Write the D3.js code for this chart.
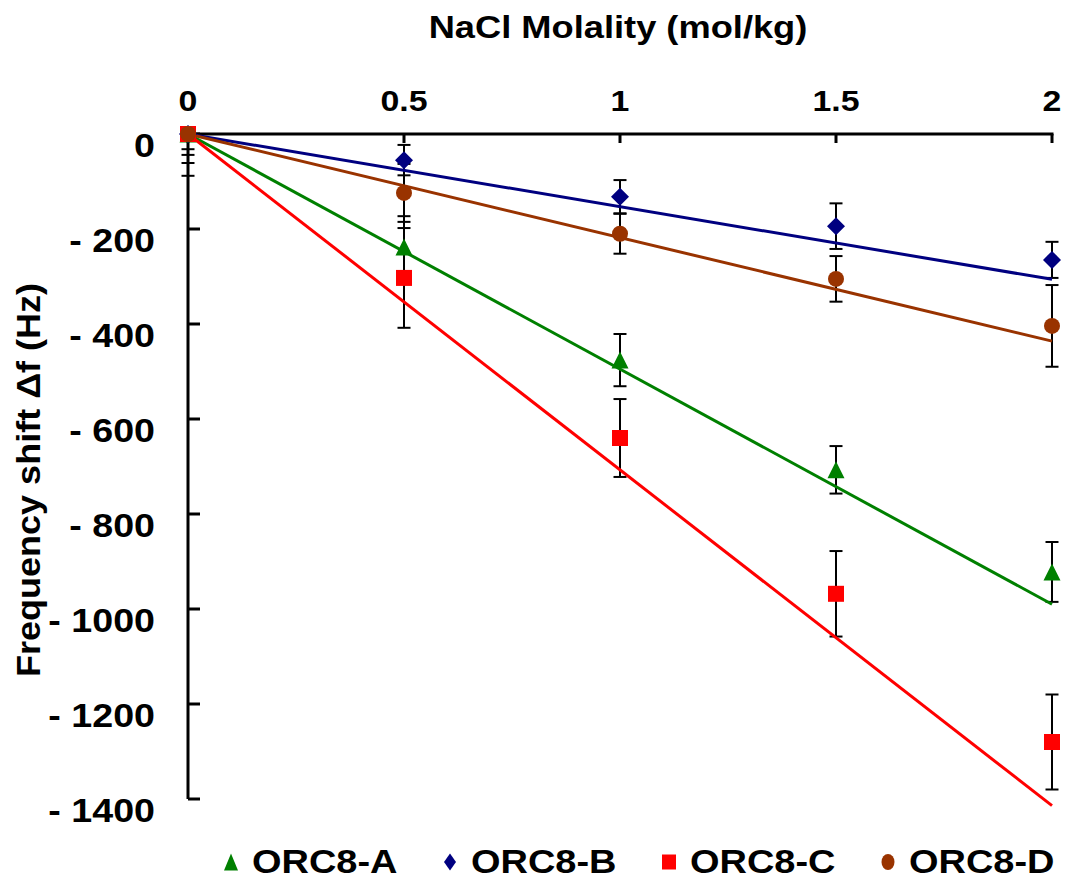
<!DOCTYPE html>
<html>
<head>
<meta charset="utf-8">
<script src="https://cdn.jsdelivr.net/npm/d3@7"></script>
<style>
  body { margin: 0; background: #fff; }
  text { font-family: "Liberation Sans", Arial, sans-serif; font-weight: bold; fill: #000; }
</style>
</head>
<body>
<svg id="chart" width="1066" height="882"></svg>
<script>
// NaCl molality (mol/kg)
const molality = [0, 0.5, 1, 1.5, 2];

// Frequency shift (Hz) and error-bar half widths per sensor
const shiftA = [0, -238, -476, -707, -922];
const errA   = [44, 65, 55, 50, 63];
const shiftB = [0, -55, -132, -194, -265];
const errB   = [32, 32, 35, 48, 38];
const shiftC = [0, -303, -640, -968, -1280];
const errC   = [61, 105, 82, 90, 100];
const shiftD = [0, -124, -210, -305, -404];
const errD   = [88, 61, 42, 48, 86];

// Linear trendline parameters (Hz per mol/kg, Hz)
const fitSlope     = [-495, -153, -707, -218];
const fitIntercept = [0, 0, 0, 0];

const seriesNames = ["ORC8-A", "ORC8-B", "ORC8-C", "ORC8-D"];
const xTicks = [0, 0.5, 1, 1.5, 2];
const yTicks = [0, -200, -400, -600, -800, -1000, -1200, -1400];

const colors  = ["#008000", "#000080", "#FF0000", "#993300"];
const shapes  = ["triangle", "diamond", "square", "circle"];
const shifts  = [shiftA, shiftB, shiftC, shiftD];
const errs    = [errA, errB, errC, errD];

const svg = d3.select("#chart");

const x = d3.scaleLinear().domain([0, 2]).range([188, 1052]);
const y = d3.scaleLinear().domain([-1400, 0]).range([799, 134]);

// Marker outlines centred on the origin
function markerPath(shape, w, h) {
  const p = d3.path();
  if (shape === "triangle") {
    p.moveTo(0, -h / 2); p.lineTo(w / 2, h / 2); p.lineTo(-w / 2, h / 2); p.closePath();
  } else if (shape === "diamond") {
    p.moveTo(0, -h / 2); p.lineTo(w / 2, 0); p.lineTo(0, h / 2); p.lineTo(-w / 2, 0); p.closePath();
  } else {
    p.rect(-w / 2, -h / 2, w, h);
  }
  return p.toString();
}

function drawMarker(g, shape, cx, cy, w, h, color) {
  if (shape === "circle") {
    g.append("ellipse").attr("cx", cx).attr("cy", cy).attr("rx", w / 2).attr("ry", h / 2).attr("fill", color);
  } else {
    g.append("path").attr("d", markerPath(shape, w, h))
      .attr("transform", `translate(${cx},${cy})`).attr("fill", color);
  }
}

// Horizontally stretched bold label
function label(parent, px, py, str, size, sx, anchor, rot) {
  const g = parent.append("g")
    .attr("transform", `translate(${px},${py}) rotate(${rot || 0}) scale(${sx},1)`);
  g.append("text").attr("text-anchor", anchor).style("font-size", size + "px").text(str);
  return g;
}

// Error bars, clipped to the plotting area
svg.append("clipPath").attr("id", "plotClip")
  .append("rect").attr("x", 160).attr("y", y(0)).attr("width", 920).attr("height", y(-1400) - y(0) + 20);

const errG = svg.append("g").attr("clip-path", "url(#plotClip)")
  .attr("stroke", "#000").attr("stroke-width", 2).attr("fill", "none");
shifts.forEach((vals, s) => {
  vals.forEach((v, i) => {
    const cx = x(molality[i]);
    const top = y(v + errs[s][i]), bot = y(v - errs[s][i]);
    errG.append("line").attr("x1", cx).attr("x2", cx).attr("y1", top).attr("y2", bot);
    errG.append("line").attr("x1", cx - 6.5).attr("x2", cx + 6.5).attr("y1", top).attr("y2", top);
    errG.append("line").attr("x1", cx - 6.5).attr("x2", cx + 6.5).attr("y1", bot).attr("y2", bot);
  });
});

// Axes: molality along the top, frequency shift on the left
const axisG = svg.append("g").attr("stroke", "#000").attr("stroke-width", 3);
axisG.append("line").attr("x1", x(0) - 1.5).attr("x2", x(2) + 1.5).attr("y1", y(0)).attr("y2", y(0));
axisG.append("line").attr("x1", x(0)).attr("x2", x(0)).attr("y1", y(0)).attr("y2", y(-1400));
xTicks.forEach(t => {
  axisG.append("line").attr("x1", x(t)).attr("x2", x(t)).attr("y1", y(0)).attr("y2", y(0) + 9);
});
yTicks.forEach(t => {
  axisG.append("line").attr("x1", x(0)).attr("x2", x(0) + 12).attr("y1", y(t)).attr("y2", y(t));
});

// Trendlines
const lineG = svg.append("g");
fitSlope.forEach((m, s) => {
  const b = fitIntercept[s];
  const pts = [0, 2].map(xv => [x(xv), y(m * xv + b)]);
  lineG.append("path").attr("d", d3.line()(pts))
    .attr("stroke", colors[s]).attr("stroke-width", 3).attr("fill", "none");
});

// Data markers
const markG = svg.append("g");
const markerSize = { triangle: [17, 17], diamond: [18, 18], square: [16, 16], circle: [16, 16] };
shifts.forEach((vals, s) => {
  vals.forEach((v, i) => {
    const [w, h] = markerSize[shapes[s]];
    drawMarker(markG, shapes[s], x(molality[i]), y(v), w, h, colors[s]);
  });
});

// Tick labels
xTicks.forEach(t => label(svg, x(t), 111, String(t), 30, 1.13, "middle"));
yTicks.forEach(t => label(svg, 155, y(t) + 23, t === 0 ? "0" : "- " + Math.abs(t), 33, 1.14, "end"));

// Axis titles
label(svg, 618, 38, "NaCl Molality (mol/kg)", 31, 1.17, "middle");
label(svg, 40, 480, "Frequency shift \u0394f (Hz)", 34, 1.06, "middle", -90);

// Legend
const legendMarker = { triangle: [14, 17], diamond: [12, 17], square: [14, 15], circle: [13, 16] };
seriesNames.forEach((name, s) => {
  const lx = 252 + s * 219;
  const [w, h] = legendMarker[shapes[s]];
  drawMarker(svg, shapes[s], lx - 21, 862, w, h, colors[s]);
  label(svg, lx, 873, name, 33, 1.15, "start");
});
</script>
</body>
</html>
